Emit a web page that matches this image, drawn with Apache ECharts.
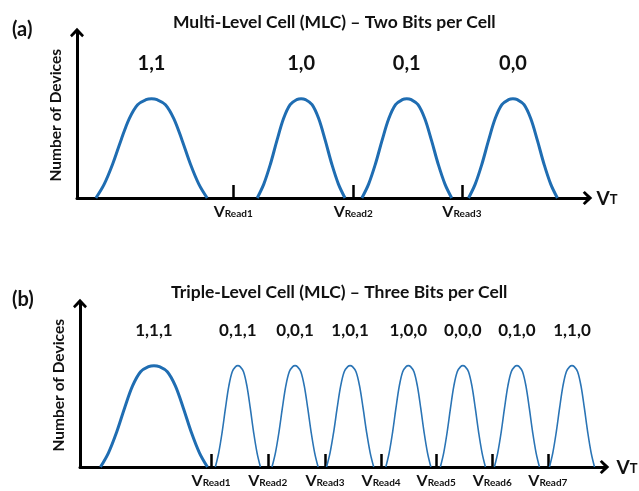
<!DOCTYPE html>
<html>
<head>
<meta charset="utf-8">
<script src="https://cdn.jsdelivr.net/npm/echarts@6/dist/echarts.min.js"></script>
<style>
  html, body { margin: 0; padding: 0; background: #fff; }
  #chart { width: 639px; height: 491px; }
</style>
</head>
<body>
<div id="chart"></div>
<script>
// (a) Multi-level cell: four threshold-voltage states
const mlcStates = ['1,1', '1,0', '0,1', '0,0'];
const mlcCenters = [14.6, 43.9, 64.6, 85.4];
const mlcHalfWidths = [10.9, 8.6, 8.8, 8.7];
const mlcPeaks = [6.0, 6.0, 6.0, 6.0];
const mlcReadLevels = [30.6, 54.1, 75.4];
const mlcReadNames = ['Read1', 'Read2', 'Read3'];

// (b) Triple-level cell: eight threshold-voltage states
const tlcStates = ['1,1,1', '0,1,1', '0,0,1', '1,0,1', '1,0,0', '0,0,0', '0,1,0', '1,1,0'];
const tlcCenters = [14.1, 30.1, 41.0, 51.5, 62.6, 73.0, 83.3, 93.8];
const tlcHalfWidths = [10.2, 4.3, 4.4, 4.5, 4.3, 4.3, 4.3, 4.3];
const tlcPeaks = [6.2, 6.2, 6.2, 6.2, 6.2, 6.2, 6.2, 6.2];
const tlcReadLevels = [25.0, 35.8, 46.7, 57.4, 67.9, 78.6, 89.2];
const tlcReadNames = ['Read1', 'Read2', 'Read3', 'Read4', 'Read5', 'Read6', 'Read7'];

// Profile of one distribution: offset from its centre (in half-widths) and relative height
const shapeOffsets = [-1, -0.85, -0.7, -0.55, -0.4, -0.25, -0.1, 0, 0.1, 0.25, 0.4, 0.55, 0.7, 0.85, 1];
const shapeHeights = [0, 0.14, 0.34, 0.58, 0.8, 0.94, 0.99, 1, 0.99, 0.94, 0.8, 0.58, 0.34, 0.14, 0];

const FONT = 'Lato, "Open Sans", sans-serif';
const INK = '#111';
const BLUE = '#1f6db2';
const CHEVRON = 'path://M7,0 L14,7.5 L12.2,9.5 L7,4.5 L1.8,9.5 L0,7.5 Z';

function distribution(center, halfWidth, peak) {
  return shapeOffsets.map((o, i) => [center + o * halfWidth, peak * shapeHeights[i]]);
}

function readLabel(levels, names) {
  return function (value) {
    let best = 0;
    levels.forEach((l, i) => { if (Math.abs(l - value) < Math.abs(levels[best] - value)) best = i; });
    return '{v|V}{s|' + names[best] + '}';
  };
}

const readRich = {
  v: { fontFamily: FONT, fontSize: 16, fontWeight: 'bold', color: INK, lineHeight: 15, verticalAlign: 'top' },
  s: { fontFamily: FONT, fontSize: 10, fontWeight: 'bold', color: INK, lineHeight: 10, padding: [8, 0, 0, 0], verticalAlign: 'bottom' }
};
const vtRich = {
  v: { fontFamily: FONT, fontSize: 19, fontWeight: 'bold', color: INK, lineHeight: 17, verticalAlign: 'top' },
  s: { fontFamily: FONT, fontSize: 13, fontWeight: 'bold', color: INK, lineHeight: 12, padding: [8, 0, 0, 0], verticalAlign: 'bottom' }
};

function xAxisFor(gridIndex, levels, names, nameGap) {
  return {
    gridIndex: gridIndex, type: 'value', min: 0, max: 100,
    axisLine: { show: true, onZero: false, lineStyle: { color: '#000', width: 3 },
      symbol: ['none', CHEVRON], symbolSize: [14, 11] },
    axisTick: { show: true, inside: true, length: 13, customValues: levels,
      lineStyle: { color: '#000', width: 2.5 } },
    axisLabel: { show: true, customValues: levels, margin: 6, formatter: readLabel(levels, names), rich: readRich },
    splitLine: { show: false },
    name: '{v|V}{s|T}', nameLocation: 'end', nameGap: nameGap,
    nameTextStyle: { rich: vtRich }
  };
}

function yAxisFor(gridIndex) {
  return {
    gridIndex: gridIndex, type: 'value', min: 0, max: 10,
    axisLine: { show: true, onZero: false, lineStyle: { color: '#000', width: 3 },
      symbol: ['none', CHEVRON], symbolSize: [14, 11] },
    axisTick: { show: false }, axisLabel: { show: false }, splitLine: { show: false },
    name: 'Number of Devices', nameLocation: 'middle', nameRotate: 90, nameGap: 13,
    nameTextStyle: { fontFamily: FONT, fontSize: 15.5, fontWeight: 'bold', color: INK }
  };
}

function stateLabels(axisIndex, centers, names, level, size) {
  return {
    type: 'scatter', xAxisIndex: axisIndex, yAxisIndex: axisIndex, symbolSize: 1, silent: true,
    itemStyle: { color: 'rgba(0,0,0,0)', opacity: 1 },
    data: centers.map((c, i) => ({ value: [c, level], name: names[i] })),
    label: { show: true, position: 'inside', formatter: '{b}', fontFamily: FONT, fontSize: size,
      fontWeight: 'bold', color: INK, opacity: 1, textBorderWidth: 0, textBorderColor: 'transparent' }
  };
}

const series = [];
mlcCenters.forEach((c, i) => {
  series.push({
    type: 'line', xAxisIndex: 0, yAxisIndex: 0, smooth: 0.35, showSymbol: false, silent: true,
    data: distribution(c, mlcHalfWidths[i], mlcPeaks[i]),
    lineStyle: { color: BLUE, width: 3 }
  });
});
tlcCenters.forEach((c, i) => {
  series.push({
    type: 'line', xAxisIndex: 1, yAxisIndex: 1, smooth: 0.35, showSymbol: false, silent: true,
    data: distribution(c, tlcHalfWidths[i], tlcPeaks[i]),
    lineStyle: { color: i === 0 ? BLUE : '#2a74b5', width: i === 0 ? 3 : 1.6 }
  });
});
// State codes above each distribution
series.push(stateLabels(0, mlcCenters, mlcStates, 8.1, 20));
series.push(stateLabels(1, tlcCenters, tlcStates, 8.32, 17));

const titleStyle = { fontFamily: FONT, fontSize: 17.5, fontWeight: 'bold', color: INK };
const tagStyle = { fontFamily: FONT, fontSize: 20, fontWeight: 'bold', color: INK };

const chart = echarts.init(document.getElementById('chart'), null, { renderer: 'canvas' });
chart.setOption({
  animation: false,
  backgroundColor: '#fff',
  title: [
    { text: '(a)', left: 7, top: 15, textStyle: tagStyle },
    { text: 'Multi-Level Cell (MLC) – Two Bits per Cell', left: 168, top: 8, textStyle: titleStyle },
    { text: '(b)', left: 7, top: 285, textStyle: tagStyle },
    { text: 'Triple-Level Cell (MLC) – Three Bits per Cell', left: 166, top: 278, textStyle: titleStyle }
  ],
  grid: [
    { left: 77, right: 51.5, top: 32.5, bottom: 293 },
    { left: 80, right: 34.5, top: 303.5, bottom: 24 }
  ],
  xAxis: [xAxisFor(0, mlcReadLevels, mlcReadNames, 9), xAxisFor(1, tlcReadLevels, tlcReadNames, 12)],
  yAxis: [yAxisFor(0), yAxisFor(1)],
  series: series
});
</script>
</body>
</html>
